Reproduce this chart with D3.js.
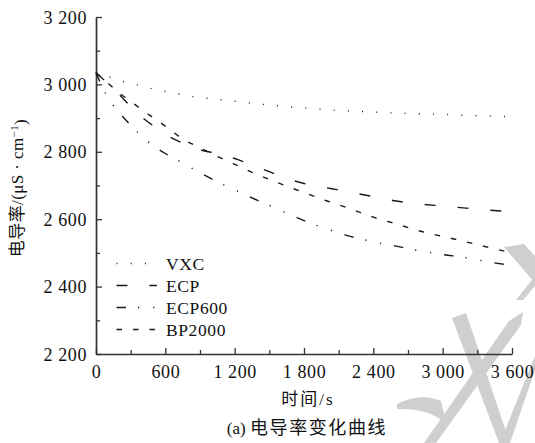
<!DOCTYPE html>
<html>
<head>
<meta charset="utf-8">
<script src="https://cdn.jsdelivr.net/npm/d3@7"></script>
<style>
  html, body { margin: 0; padding: 0; background: #fff; }
  svg { display: block; }
  .num { font-family: "Liberation Serif", "Times New Roman", serif; }
  .cjk { font-family: "Liberation Serif", "Noto Sans CJK SC", serif; }
</style>
</head>
<body>
<script>
// Sampling times (s)
const times = [0, 100, 200, 300, 400, 500, 600, 750, 900, 1050, 1200, 1350, 1500,
               1650, 1800, 2000, 2200, 2400, 2600, 2800, 3000, 3200, 3400, 3600];

// Conductivity (μS·cm⁻¹) for each sample
const vxc    = [3035, 3024, 3012, 3003, 2995, 2986, 2979, 2969, 2961, 2956, 2950, 2944, 2939,
                2934, 2930, 2925, 2921, 2918, 2915, 2913, 2911, 2908, 2906, 2904];
const ecp    = [3035, 3003, 2970, 2935, 2902, 2876, 2852, 2826, 2806, 2795, 2780, 2761, 2741,
                2721, 2706, 2693, 2680, 2667, 2654, 2645, 2639, 2633, 2627, 2622];
const ecp600 = [3035, 2962, 2917, 2879, 2844, 2817, 2795, 2767, 2738, 2711, 2687, 2663, 2641,
                2618, 2596, 2571, 2549, 2533, 2520, 2506, 2495, 2486, 2473, 2463];
const bp2000 = [3035, 3005, 2975, 2950, 2924, 2900, 2876, 2838, 2812, 2786, 2763, 2739, 2718,
                2698, 2679, 2654, 2631, 2606, 2586, 2565, 2549, 2533, 2516, 2500];

const seriesNames = ["VXC", "ECP", "ECP600", "BP2000"];
const seriesValues = [vxc, ecp, ecp600, bp2000];
const dashPatterns = ["1 13.2", "11 22", "9.5 12 1.2 14 1.2 13", "5.5 11"];

const xTicks = [0, 600, 1200, 1800, 2400, 3000, 3600];
const xMinorTicks = [300, 900, 1500, 2100, 2700, 3300];
const yTicks = [2200, 2400, 2600, 2800, 3000, 3200];
const yMinorTicks = [2300, 2500, 2700, 2900, 3100];

const W = 535, H = 443;
const svg = d3.select("body").append("svg").attr("width", W).attr("height", H);

// faint background strokes in the lower right corner
const wm = svg.append("g").attr("fill", "#cfcfcf").attr("stroke", "none");
[
  "M504,247 L524,244 L535,256 L535,283 Z",
  "M516,300 L523,300 L535,286 L535,276 Z",
  "M452,318 L466,313 L510,443 L499,443 Z",
  "M509,321 L523,312 L521,325 L436,443 L424,443 Z",
  "M397,404 Q420,392 441,401 L447,426 Q433,408 397,409 Z",
  "M535,356 L535,370 L510,443 L500,443 Z"
].forEach(d => wm.append("path").attr("d", d));

const x = d3.scaleLinear().domain([0, 3600]).range([96, 512]);
const y = d3.scaleLinear().domain([2200, 3200]).range([354, 17]);

const axisColor = "#333";
const fmt = d => d3.format(",")(d).replace(",", " ");

// y axis: major ticks with labels, minor ticks inward
const yAxis = svg.append("g").attr("transform", `translate(${x(0)},0)`)
  .call(d3.axisLeft(y).tickValues(yTicks).tickSizeInner(-6).tickSizeOuter(0).tickPadding(9)
        .tickFormat(fmt));
svg.append("g").attr("transform", `translate(${x(0)},0)`)
  .call(d3.axisLeft(y).tickValues(yMinorTicks).tickSizeInner(-4).tickSizeOuter(0).tickFormat(""))
  .select(".domain").remove();

// x axis
const xAxis = svg.append("g").attr("transform", `translate(0,${y(2200)})`)
  .call(d3.axisBottom(x).tickValues(xTicks).tickSizeInner(-6).tickSizeOuter(0).tickPadding(11)
        .tickFormat(fmt));
svg.append("g").attr("transform", `translate(0,${y(2200)})`)
  .call(d3.axisBottom(x).tickValues(xMinorTicks).tickSizeInner(-4).tickSizeOuter(0).tickFormat(""))
  .select(".domain").remove();

svg.selectAll(".domain").attr("stroke", axisColor).attr("stroke-width", 1.7);
svg.selectAll(".tick line").attr("stroke", axisColor).attr("stroke-width", 1.3);
svg.selectAll(".tick text")
  .attr("class", "num")
  .attr("fill", "#111")
  .style("font-size", "18px")
  .style("letter-spacing", "0.6px");
yAxis.selectAll(".tick text").attr("dy", "0.34em");
xAxis.selectAll(".tick text").attr("dy", "0.71em");

// curves
const line = d3.line()
  .x((d, i) => x(times[i]))
  .y(d => y(d))
  .curve(d3.curveMonotoneX);

seriesValues.forEach((vals, k) => {
  svg.append("path")
    .datum(vals)
    .attr("d", line)
    .attr("fill", "none")
    .attr("stroke", "#1a1a1a")
    .attr("stroke-width", 1.4)
    .attr("stroke-dasharray", dashPatterns[k]);
});

// legend
const legend = svg.append("g");
seriesNames.forEach((name, k) => {
  const ly = 263.5 + k * 22;
  legend.append("line")
    .attr("x1", 116.5).attr("x2", 157).attr("y1", ly).attr("y2", ly)
    .attr("stroke", "#1a1a1a").attr("stroke-width", 1.4)
    .attr("stroke-dasharray", dashPatterns[k]);
  legend.append("text")
    .attr("class", "num")
    .attr("x", 166).attr("y", ly + 6)
    .style("font-size", "17.5px")
    .style("letter-spacing", "0.6px")
    .attr("fill", "#111")
    .text(name);
});

// axis titles
svg.append("text")
  .attr("class", "cjk")
  .attr("x", 308).attr("y", 405)
  .attr("text-anchor", "middle")
  .style("font-size", "17px")
  .style("letter-spacing", "2px")
  .attr("fill", "#111")
  .text("时间/s");

const yt = svg.append("text")
  .attr("class", "cjk")
  .attr("transform", "translate(23,188) rotate(-90)")
  .attr("text-anchor", "middle")
  .style("font-size", "17px")
  .style("letter-spacing", "0.4px")
  .attr("fill", "#111");
yt.append("tspan").text("电导率/(μS · cm");
yt.append("tspan").attr("dy", "-0.45em").style("font-size", "11px").text("−1");
yt.append("tspan").attr("dy", "0.45em").text(")");

// caption
const cap = svg.append("text")
  .attr("x", 307).attr("y", 434)
  .attr("text-anchor", "middle")
  .attr("fill", "#111");
cap.append("tspan").attr("class", "num").style("font-size", "17px").text("(a) ");
cap.append("tspan").attr("class", "cjk").style("font-size", "18px").style("letter-spacing", "1.6px")
  .text("电导率变化曲线");
</script>
</body>
</html>
